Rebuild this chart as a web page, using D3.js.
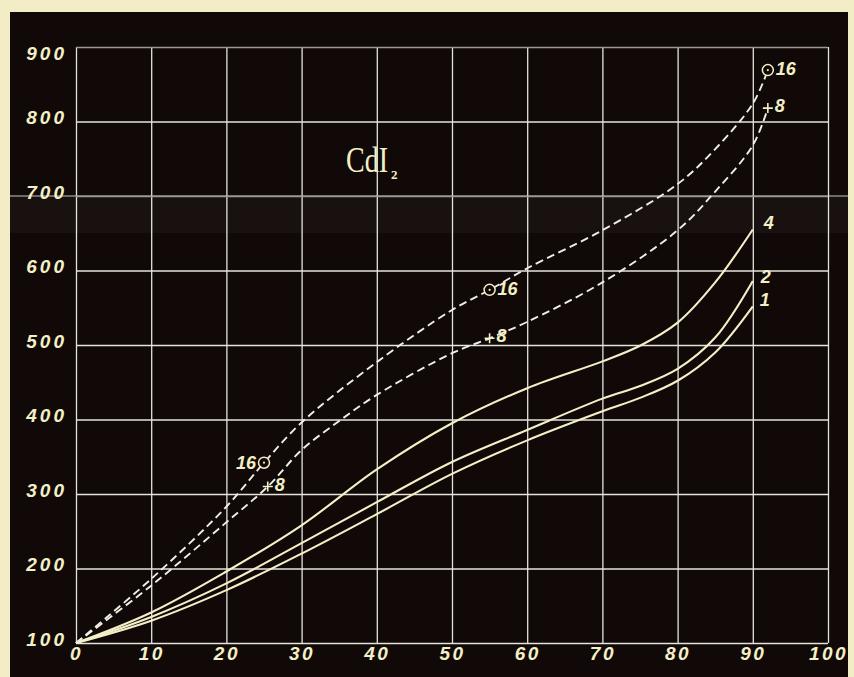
<!DOCTYPE html>
<html><head><meta charset="utf-8">
<script src="https://cdn.jsdelivr.net/npm/d3@7"></script>
<style>
body{margin:0;background:#f2edc4;}
svg{display:block}
</style>
</head><body>
<svg id="c" width="854" height="677"></svg>
<script>
// ---------- data ----------
const xTicks = [0,10,20,30,40,50,60,70,80,90,100];
const yTicks = [100,200,300,400,500,600,700,800,900];

const solidX = [0,10,20,30,40,50,60,70,75,80,85,90];
const curve1 = [100,130,171,220,273,327,372,411,429,452,490,552];
const curve2 = [100,135,180,234,289,343,386,428,445,468,510,586];
const curve4 = [100,141,196,258,333,395,442,478,499,530,584,655];

const dash16X = [0,10,20,25,30,40,50,55,60,70,80,85,90,92];
const dash16  = [100,186,283,342,396,477,547,574,603,654,716,763,824,869];
const dash8X  = [0,10,20,25.5,30,35,40,50,55,60,70,80,85,90,92];
const dash8   = [100,177,262,310,359,398,433,489,509,531,584,654,706,768,818];

const marks16X = [25,55,92];
const marks8X  = [25.5,55,92];

const solidNames = ["1","2","4"];
const chartTitle = "CdI";
const chartTitleSub = "2";

// ---------- drawing ----------
const svg = d3.select("#c");
const W = 854, H = 677;
const L = 76, R = 828, T = 47, B = 643;

const x = d3.scaleLinear().domain([0,100]).range([L,R]);
const y = d3.scaleLinear().domain([100,900]).range([B,T]);

const cream = "#f3efc6";
const gridCol = "#e4e4dc";
const bg = "#100907";
const tickFont = "'Liberation Sans', Arial, sans-serif";

svg.append("rect").attr("width",W).attr("height",H).attr("fill","#f2edc4");
svg.append("rect").attr("x",10).attr("y",12).attr("width",838).attr("height",H-12).attr("fill",bg);

// faint fold band
svg.append("rect").attr("x",10).attr("y",197).attr("width",838).attr("height",36)
  .attr("fill","#ffffff").attr("opacity",0.035);
svg.append("line").attr("x1",10).attr("x2",848).attr("y1",y(700)).attr("y2",y(700))
  .attr("stroke","#8c8c86").attr("stroke-width",1.4);

// x grid + labels
const gx = svg.append("g").attr("transform",`translate(0,${B})`)
  .call(d3.axisBottom(x).tickValues(xTicks).tickSize(-(B-T)).tickPadding(4).tickFormat(d3.format("d")));
gx.select(".domain").remove();
gx.selectAll("line").attr("stroke",gridCol).attr("stroke-width",1.3);
gx.selectAll("text").attr("fill",cream).attr("font-family",tickFont)
  .attr("font-style","italic").attr("font-weight","bold").attr("font-size",19)
  .attr("letter-spacing","2.5px");

// y grid + labels
const gy = svg.append("g").attr("transform",`translate(${L},0)`)
  .call(d3.axisLeft(y).tickValues(yTicks).tickSize(-(R-L)).tickPadding(9).tickFormat(d3.format("d")));
gy.select(".domain").remove();
gy.selectAll("line").attr("stroke",d => (d===900||d===700) ? "#9a9a94" : gridCol).attr("stroke-width",1.3);
gy.selectAll("text").attr("fill",cream).attr("font-family",tickFont)
  .attr("font-style","italic").attr("font-weight","bold").attr("font-size",19)
  .attr("letter-spacing","3px")
  .attr("transform", d => d===900 ? "translate(0,6)" : "translate(0,-4)");

// title
svg.append("text").attr("transform","translate(346,172) scale(1,1.25)").attr("fill",cream)
  .attr("font-family","'Liberation Serif', serif").attr("font-size",28)
  .text(chartTitle);
svg.append("text").attr("x",391).attr("y",179).attr("fill",cream)
  .attr("font-family","'Liberation Serif', serif").attr("font-size",13).attr("font-weight","bold")
  .text(chartTitleSub);

// lines
const line = d3.line().x(d=>x(d[0])).y(d=>y(d[1])).curve(d3.curveCatmullRom.alpha(0.5));
const solids = [curve1,curve2,curve4];
solids.forEach(s => {
  svg.append("path").datum(solidX.map((v,i)=>[v,s[i]])).attr("d",line)
    .attr("fill","none").attr("stroke",cream).attr("stroke-width",2.1);
});
const d16 = dash16X.map((v,i)=>[v,dash16[i]]);
const d8  = dash8X.map((v,i)=>[v,dash8[i]]);
[d16,d8].forEach(d => {
  svg.append("path").datum(d).attr("d",line)
    .attr("fill","none").attr("stroke","#efefe6").attr("stroke-width",1.9)
    .attr("stroke-dasharray","8,4.5");
});

function lab(tx,ty,t,anchor){
  svg.append("text").attr("x",tx).attr("y",ty).text(t).attr("fill",cream)
    .attr("font-family",tickFont).attr("font-style","italic").attr("font-weight","bold")
    .attr("font-size",18).attr("text-anchor",anchor||"start");
}

// solid end labels
const endOff = [[7,0],[8,2],[11,-1]];
solids.forEach((s,i) => {
  const px = x(solidX[solidX.length-1]), py = y(s[s.length-1]);
  lab(px+endOff[i][0], py+endOff[i][1], solidNames[i]);
});

// markers 16 (circles)
marks16X.forEach((mx,k) => {
  const i = dash16X.indexOf(mx);
  const px = x(mx), py = y(dash16[i]);
  svg.append("circle").attr("cx",px).attr("cy",py).attr("r",5.5).attr("fill",bg)
    .attr("stroke",cream).attr("stroke-width",1.5);
  svg.append("circle").attr("cx",px).attr("cy",py).attr("r",1.1).attr("fill",cream);
  if (k===0) lab(px-8, py+6, "16", "end");
  else lab(px+8, py+5, "16");
});
// markers 8 (plus)
marks8X.forEach((mx,k) => {
  const i = dash8X.indexOf(mx);
  const px = x(mx), py = y(dash8[i]);
  svg.append("path").attr("d",`M${px-5},${py}H${px+5}M${px},${py-5}V${py+5}`)
    .attr("stroke",cream).attr("stroke-width",1.6);
  lab(px+7, py+4, "8");
});
</script>
</body></html>
